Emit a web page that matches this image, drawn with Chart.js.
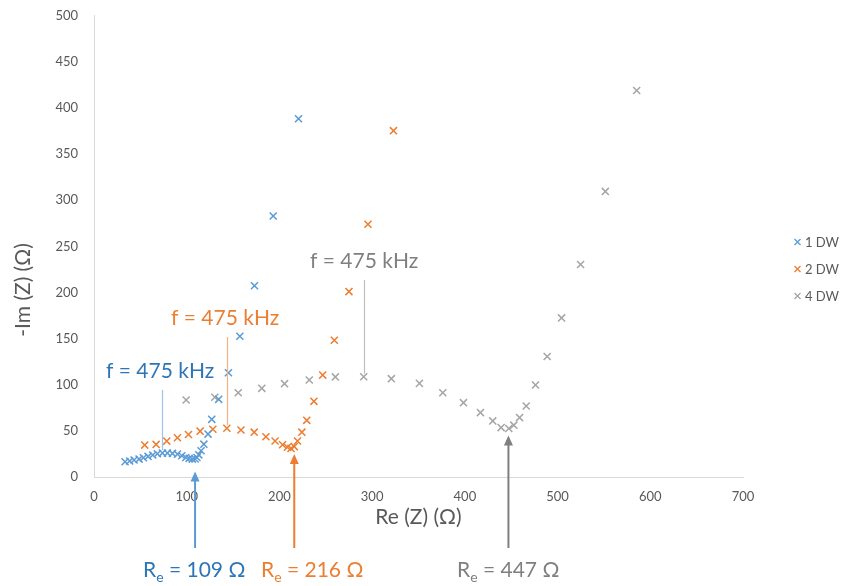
<!DOCTYPE html>
<html>
<head>
<meta charset="utf-8">
<script src="https://cdn.jsdelivr.net/npm/chart.js@4.4.1/dist/chart.umd.min.js"></script>
<style>
  html, body { margin: 0; padding: 0; background: #fff; }
  #wrap { width: 845px; height: 586px; position: relative; }
</style>
</head>
<body>
<div id="wrap"><canvas id="nyquist"></canvas></div>
<script>
// Nyquist data: [Re(Z), -Im(Z)] in ohm
const seriesNames = ['1 DW', '2 DW', '4 DW'];

const dw1 = [
    [33.5, 16.5], [38.5, 17.3], [43.2, 18.4], [48.6, 19.4], [53.3, 20.9],
    [58.3, 22.3], [63.4, 23.8], [68.4, 25.2], [73.8, 25.9], [79.2, 25.9],
    [84.6, 25.6], [90, 24.8], [94.7, 23], [99, 21.2], [102.6, 20.2],
    [106, 19.4], [109, 19.5], [111, 21.2], [113, 24], [115.5, 28.5],
    [118.5, 35.6], [123, 46.5], [127, 62.5], [134.5, 84.2], [145, 113],
    [157.3, 152.6], [173.1, 207.3], [193.3, 282.9], [220.6, 388.4]
];

const dw2 = [
    [54.7, 34.6], [67, 35.3], [78.5, 38.9], [90, 42.5], [101.9, 46.1],
    [114.5, 49.7], [128.2, 51.8], [143.3, 52.8], [158.5, 51], [172.8, 48.6],
    [185.4, 43.7], [195.3, 39], [203.4, 35], [208.6, 32.3], [212.5, 31],
    [216, 33], [219.5, 39], [224.2, 48.6], [229.5, 61.4], [237.2, 82],
    [246.7, 110.5], [259.2, 148.2], [275, 201], [295.5, 274], [323, 375.5]
];

const dw4 = [
    [99.4, 83.5], [130.3, 86.4], [155.6, 91.4], [181, 96.1], [205.5, 101.2],
    [232.2, 105.1], [260.3, 108.5], [290.9, 108.7], [320.7, 106.6], [351, 101.5],
    [376.2, 91.4], [398.5, 80.6], [416.8, 69.8], [430.1, 60.8], [439.1, 53.6],
    [447.4, 52.6], [452.8, 56.2], [459, 64.4], [466.2, 77], [476.2, 99.7],
    [488.8, 130.7], [504.3, 172.5], [524.8, 230.4], [551.5, 309.6], [585.3, 419]
];

const xTicks = [0, 100, 200, 300, 400, 500, 600, 700];
const yTicks = [0, 50, 100, 150, 200, 250, 300, 350, 400, 450, 500];

// annotations
const freqLabel = 'f = 475 kHz';
const freqPoint = [8, 7, 7];          // index of the 475 kHz point in each series
const reValues = [109, 216, 447];     // electrolyte resistance per series
const reArrowTip = [6, 25, 45];       // -Im(Z) where each arrow stops

const markColors = ['#5B9BD5', '#ED7D31', '#A5A5A5'];
const textColors = ['#2E75B6', '#ED7D31', '#7F7F7F'];
const arrowColors = ['#5B9BD5', '#ED7D31', '#7F7F7F'];
const lineColors = ['#9DC3E6', '#F4B183', '#BFBFBF'];
const FONT = 'Lato, "Open Sans", sans-serif';

const toXY = arr => arr.map(p => ({ x: p[0], y: p[1] }));
const allSeries = [dw1, dw2, dw4];

const drawCross = (ctx, cx, cy, r) => {
    ctx.beginPath();
    ctx.moveTo(cx - r, cy - r); ctx.lineTo(cx + r, cy + r);
    ctx.moveTo(cx + r, cy - r); ctx.lineTo(cx - r, cy + r);
    ctx.stroke();
};

const annotations = {
    id: 'annotations',
    afterDraw(chart) {
        const { ctx, scales: { x, y } } = chart;
        ctx.save();

        // axis titles
        ctx.fillStyle = '#595959';
        ctx.font = '21px ' + FONT;
        ctx.textAlign = 'center';
        ctx.textBaseline = 'middle';
        ctx.fillText('Re (Z) (\u03A9)', (x.left + x.right) / 2, 517);
        ctx.save();
        ctx.translate(23, 290);
        ctx.rotate(-Math.PI / 2);
        ctx.fillText('-Im (Z) (\u03A9)', 0, 0);
        ctx.restore();

        // legend
        ctx.font = '13px ' + FONT;
        ctx.textAlign = 'left';
        seriesNames.forEach((name, i) => {
            const ly = 242 + i * 27;
            ctx.strokeStyle = markColors[i];
            ctx.lineWidth = 1.3;
            drawCross(ctx, 797.5, ly, 3);
            ctx.fillStyle = '#595959';
            ctx.fillText(name, 805, ly + 1);
        });

        // 475 kHz leader lines and labels
        const labelPos = [[106, 378, 390], [171, 325, 337], [310, 268, 280]];
        allSeries.forEach((s, i) => {
            const p = s[freqPoint[i]];
            const px = Math.round(x.getPixelForValue(p[0])) + 0.5;
            const py = y.getPixelForValue(p[1]);
            ctx.strokeStyle = lineColors[i];
            ctx.lineWidth = 1.2;
            ctx.beginPath();
            ctx.moveTo(px, labelPos[i][2]);
            ctx.lineTo(px, py - 3);
            ctx.stroke();
            ctx.fillStyle = textColors[i];
            ctx.font = '21px ' + FONT;
            ctx.textAlign = 'left';
            ctx.textBaseline = 'alphabetic';
            ctx.fillText(freqLabel, labelPos[i][0], labelPos[i][1]);
        });

        // R_e arrows and labels
        const reLeft = [143, 261, 457];
        reValues.forEach((rv, i) => {
            const px = x.getPixelForValue(rv);
            const tip = y.getPixelForValue(reArrowTip[i]);
            ctx.strokeStyle = arrowColors[i];
            ctx.fillStyle = arrowColors[i];
            ctx.lineWidth = 2;
            ctx.beginPath();
            ctx.moveTo(px, 548);
            ctx.lineTo(px, tip + 8);
            ctx.stroke();
            ctx.beginPath();
            ctx.moveTo(px, tip);
            ctx.lineTo(px - 4.5, tip + 10);
            ctx.lineTo(px + 4.5, tip + 10);
            ctx.closePath();
            ctx.fill();

            ctx.fillStyle = textColors[i];
            ctx.textAlign = 'left';
            ctx.textBaseline = 'alphabetic';
            let lx = reLeft[i];
            ctx.font = '21px ' + FONT;
            ctx.fillText('R', lx, 577);
            lx += ctx.measureText('R').width;
            ctx.font = '14px ' + FONT;
            ctx.fillText('e', lx, 582);
            lx += ctx.measureText('e').width;
            ctx.font = '21px ' + FONT;
            ctx.fillText(' = ' + rv + ' \u03A9', lx, 577);
        });

        ctx.restore();
    }
};

const tickFont = { family: FONT, size: 13 };

new Chart(document.getElementById('nyquist'), {
    type: 'scatter',
    data: {
        datasets: allSeries.map((s, i) => ({
            label: seriesNames[i],
            data: toXY(s),
            pointStyle: 'crossRot',
            pointRadius: 5,
            pointBorderWidth: 1.5,
            borderColor: markColors[i],
            backgroundColor: markColors[i]
        }))
    },
    options: {
        responsive: true,
        maintainAspectRatio: false,
        animation: false,
        layout: { padding: { top: 8, right: 102, bottom: 0, left: 0 } },
        plugins: {
            legend: { display: false },
            tooltip: { enabled: false }
        },
        scales: {
            x: {
                type: 'linear',
                min: xTicks[0],
                max: xTicks[xTicks.length - 1],
                afterBuildTicks: s => { s.ticks = xTicks.map(v => ({ value: v })); },
                afterFit: s => { s.height = 109; },
                grid: { display: false },
                border: { display: true, color: '#D9D9D9', width: 1 },
                ticks: { color: '#595959', font: tickFont, padding: 4, maxRotation: 0 }
            },
            y: {
                type: 'linear',
                min: yTicks[0],
                max: yTicks[yTicks.length - 1],
                afterBuildTicks: s => { s.ticks = yTicks.map(v => ({ value: v })); },
                afterFit: s => { s.width = 94; },
                grid: { display: false },
                border: { display: true, color: '#D9D9D9', width: 1 },
                ticks: { color: '#595959', font: tickFont, padding: 8 }
            }
        }
    },
    plugins: [annotations]
});
</script>
</body>
</html>
